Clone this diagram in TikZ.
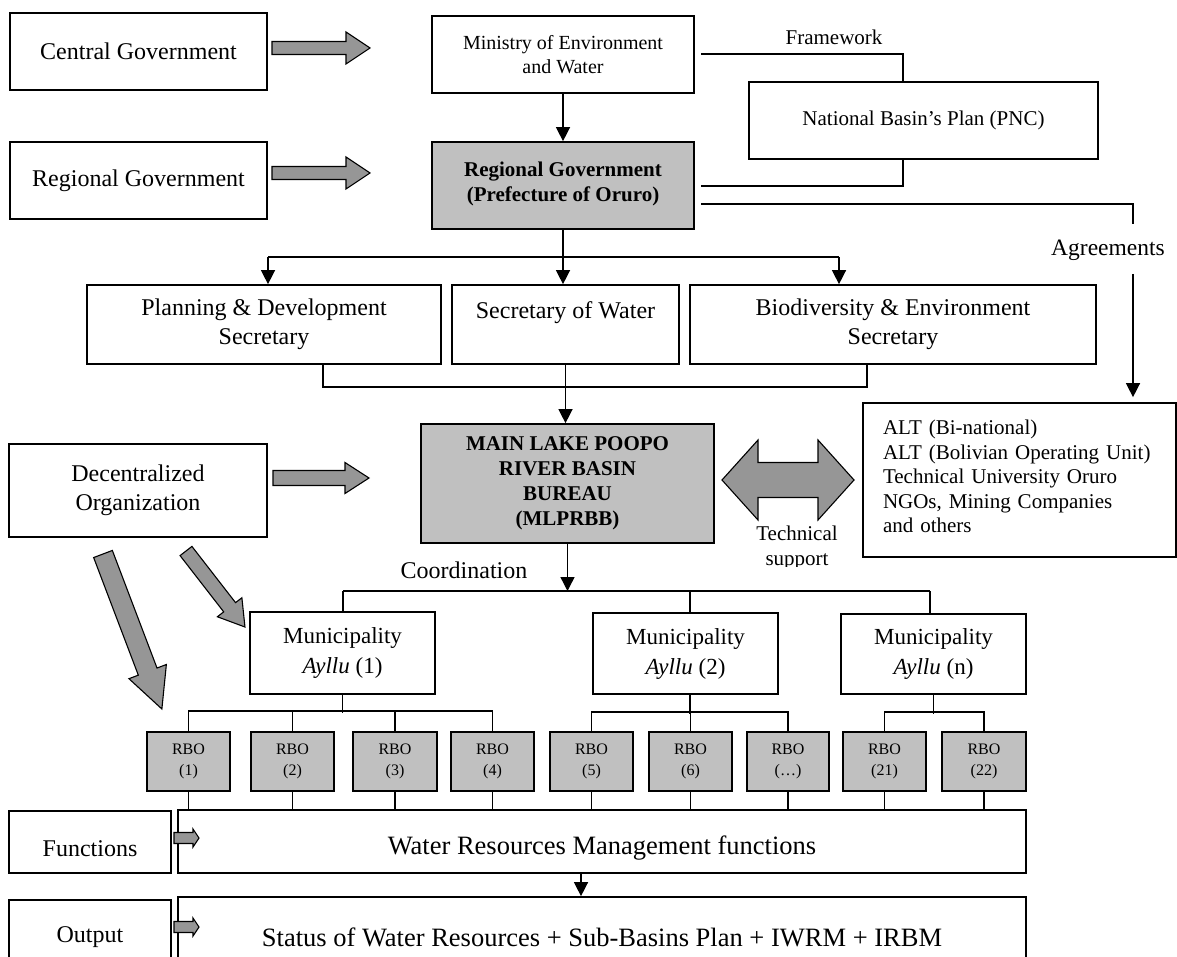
\documentclass[tikz,border=0pt]{standalone}
\usepackage{fontspec}
\setmainfont{Liberation Serif}
\usetikzlibrary{arrows.meta,calc}
\definecolor{boxgray}{RGB}{192,192,192}
\definecolor{arrgray}{RGB}{150,150,150}
\newcommand{\mkbox}[7][box]{%
  \pgfmathsetmacro{\bxcx}{(#3+#5)/2}%
  \pgfmathsetmacro{\bxcy}{(#4+#6)/2}%
  \pgfmathsetmacro{\bxw}{#5-#3}%
  \pgfmathsetmacro{\bxh}{#6-#4}%
  \node[#1, minimum width=\bxw pt, minimum height=\bxh pt] (#2) at (\bxcx,\bxcy) {#7};%
}
\newcommand{\hblock}[6]{%
  \draw[blk] (#1,#3-#4) -- (#2-#6,#3-#4) -- (#2-#6,#3-#5) -- (#2,#3) -- (#2-#6,#3+#5) -- (#2-#6,#3+#4) -- (#1,#3+#4) -- cycle;}
\tikzset{
  box/.style={draw, line width=1.7pt, align=center, inner sep=0pt},
  graybox/.style={box, fill=boxgray},
  conn/.style={line width=1.4pt},
  arr/.style={conn, -{Triangle[width=14pt,length=14pt]}},
  blk/.style={draw, line width=1.1pt, fill=arrgray, line join=miter},
  lbl/.style={inner sep=0pt, align=center},
  f16/.style={font=\fontsize{16}{21}\selectfont},
  f20/.style={font=\fontsize{20}{24}\selectfont},
  f21/.style={font=\fontsize{21}{24.5}\selectfont},
  f21b/.style={font=\fontsize{21}{25}\selectfont\bfseries},
  f23/.style={font=\fontsize{23}{30}\selectfont},
  f24/.style={font=\fontsize{24}{28.5}\selectfont},
  f26/.style={font=\fontsize{26.5}{30}\selectfont},
}
\begin{document}
\begin{tikzpicture}[x=1pt,y=-1pt]
\useasboundingbox (0,0) rectangle (1177,957);
\clip (0,0) rectangle (1177,957);
\fill[white] (0,0) rectangle (1177,957);

% left labels
\mkbox[box,f24]{cg}{10}{13}{267}{90}{Central Government}
\mkbox[box,f24]{rgl}{10}{142}{267}{219}{Regional Government}
\mkbox[box,f24]{dec}{9}{444}{267}{537}{Decentralized\\Organization}
\mkbox[box,f24,text height=28pt,text depth=0pt]{fl}{9}{811}{171}{873}{Functions}
\mkbox[box,f24]{ol}{9}{900}{171}{974}{Output}

% top
\mkbox[box,f20]{min}{432}{16}{694}{93}{Ministry of Environment\\and Water}
\mkbox[box,f21]{nbp}{749}{82}{1098}{159}{National Basin’s Plan (PNC)}
\node[lbl,f21] (fwl) at (834,37) {Framework};
\mkbox[graybox,f21b]{rg}{432}{142}{694}{229}{Regional Government\\(Prefecture of Oruro)\\[-17pt]}
\node[lbl,font=\fontsize{23.5}{28}\selectfont] (agl) at (1108,250) {Agreements};

% secretaries
\mkbox[box,f24]{pd}{87}{285}{441}{364}{Planning \& Development\\Secretary}
\mkbox[box,f24]{sw}{452}{285}{679}{364}{Secretary of Water\\\mbox{}}
\mkbox[box,f24]{bio}{690}{285}{1096}{364}{Biodiversity \& Environment\\Secretary}

% bureau
\mkbox[graybox,f21b]{ml}{421}{424}{714}{543}{MAIN LAKE POOPO\\RIVER BASIN\\BUREAU\\(MLPRBB)}
\mkbox[box,f21,text width=273pt,align=left,text depth=105pt]{alt}{863}{403}{1176}{557}{ALT (Bi-national)\\ALT (Bolivian Operating Unit)\\Technical University Oruro\\NGOs, Mining Companies\\and others}
\begin{scope}
\clip (740,510) rectangle (860,566);
\node[lbl,f21] (tsl) at (797,548) {Technical\\support};
\end{scope}
\node[lbl,f24] (col) at (464,570) {Coordination};

% municipalities
\mkbox[box,f23]{m1}{250}{612}{435}{694}{Municipality\\\textit{Ayllu} (1)}
\mkbox[box,f23]{m2}{593}{613}{778}{694}{Municipality\\\textit{Ayllu} (2)}
\mkbox[box,f23]{mn}{841}{614}{1026}{694}{Municipality\\\textit{Ayllu} (n)}

% RBOs
\mkbox[graybox,f16]{r1}{147}{732}{230}{791}{RBO\\(1)}
\mkbox[graybox,f16]{r2}{251}{732}{334}{791}{RBO\\(2)}
\mkbox[graybox,f16]{r3}{353}{732}{437}{791}{RBO\\(3)}
\mkbox[graybox,f16]{r4}{451}{732}{534}{791}{RBO\\(4)}
\mkbox[graybox,f16]{r5}{550}{732}{633}{791}{RBO\\(5)}
\mkbox[graybox,f16]{r6}{649}{732}{732}{791}{RBO\\(6)}
\mkbox[graybox,f16]{r7}{747}{732}{829}{791}{RBO\\(…)}
\mkbox[graybox,f16]{r21}{843}{732}{926}{791}{RBO\\(21)}
\mkbox[graybox,f16]{r22}{942}{732}{1026}{791}{RBO\\(22)}

% bottom
\mkbox[box,f26,text height=32pt,text depth=6pt]{fn}{178}{810}{1026}{873}{Water Resources Management functions}
\mkbox[box,f26]{out}{178}{897}{1026}{977}{Status of Water Resources + Sub-Basins Plan + IWRM + IRBM}

% ---- connectors ----
\draw[arr] (min.south) -- (rg.north);
\coordinate (fwA) at (701,54);
\coordinate (xN) at (903,0);
\draw[conn] (fwA) -| (nbp.north -| xN);
\coordinate (rgA) at (701,186);
\draw[conn] (nbp.south -| xN) |- (rgA);
\coordinate (rgB) at (701,204);
\coordinate (agT) at (1133,224);
\coordinate (agB) at (1133,274);
\draw[conn] (rgB) -| (agT);
\draw[arr, shorten >=5pt] (agB) -- (agB |- alt.north);

\coordinate (hl) at (268,257);
\coordinate (hr) at (839,257);
\draw[conn] (hl) -- (hr);
\draw[arr] (hl) -- (hl |- pd.north);
\draw[arr] (hr) -- (hr |- bio.north);
\draw[arr] (rg.south) -- (rg.south |- sw.north);

\coordinate (xP) at (323,0);
\coordinate (xB) at (867,0);
\coordinate (yL) at (0,387);
\draw[conn] (pd.south -| xP) -- (xP |- yL) -- (xB |- yL) -- (bio.south -| xB);
\draw[arr] (sw.south) -- (sw.south |- ml.north);

\coordinate (mL) at (343,591);
\coordinate (mR) at (930,591);
\draw[conn] (mL) -- (mR);
\draw[arr] (ml.south) -- (ml.south |- mL);
\draw[conn] (mL) -- (mL |- m1.north);
\coordinate (x2) at (690,0);
\draw[conn] (x2 |- mL) -- (x2 |- m2.north);
\draw[conn] (mR) -- (mR |- mn.north);

% municipality to RBO
\draw[conn] (m1.south) -- ++(0,18);
\draw[conn] (r1.north) -- ++(0,-20) -| (r4.north);
\draw[conn] (r2.north) -- ++(0,-20);
\draw[conn] (r3.north) -- ++(0,-20);
\draw[conn] (x2 |- m2.south) -- ++(0,19);
\draw[conn] (r5.north) -- ++(0,-19) -| (r7.north);
\draw[conn] (r6.north) -- ++(0,-19);
\draw[conn] (mn.south) -- ++(0,19);
\draw[conn] (r21.north) -- ++(0,-19) -| (r22.north);

% RBO to functions
\foreach \r in {r1,r2,r3,r4,r5,r6,r7,r21,r22}{
  \draw[conn] (\r.south) -- (\r.south |- fn.north);
}
\coordinate (xF) at (581,0);
\draw[arr] (fn.south -| xF) -- (out.north -| xF);

% ---- block arrows ----
\hblock{272}{370}{48}{6.5}{16}{24}
\hblock{272}{370}{173}{6.5}{16}{24}
\hblock{273}{369}{478}{7.5}{15.5}{24}
\hblock{174}{199}{838}{5.5}{9}{6}
\hblock{174}{199}{927}{5.5}{9}{6}
\begin{scope}[shift={(186,551)}, rotate=-52.2]
  \hblock{0}{96.2}{0}{7.5}{15.5}{25}
\end{scope}
\begin{scope}[shift={(103,554)}, rotate=-69.2]
  \hblock{0}{165.8}{0}{10}{20}{40}
\end{scope}
\draw[blk] (722,480) -- (758,440) -- (758,462.5) -- (818,462.5) -- (818,440) -- (854,480)
  -- (818,520) -- (818,497.5) -- (758,497.5) -- (758,520) -- cycle;
\end{tikzpicture}
\end{document}
